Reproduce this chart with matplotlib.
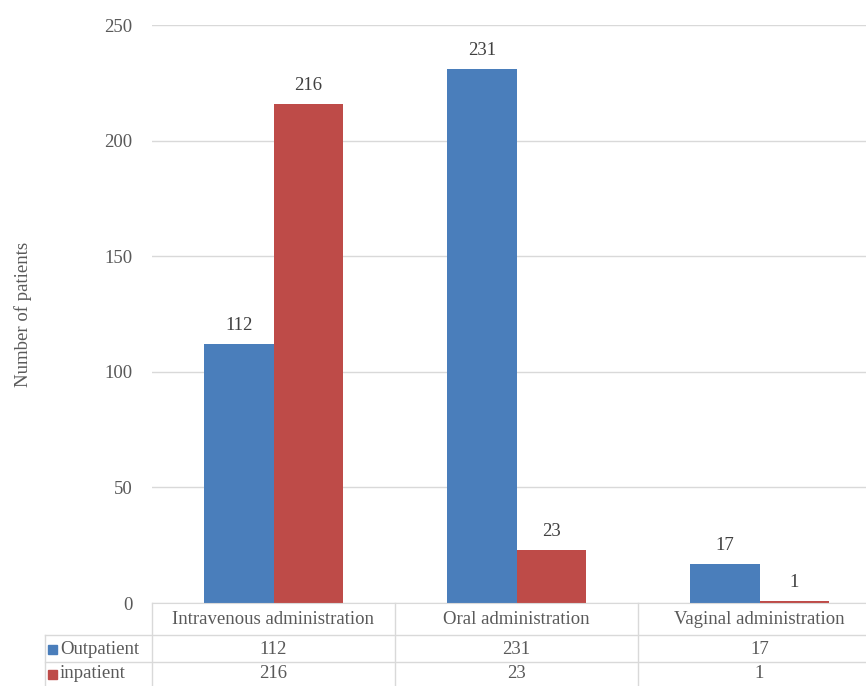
import numpy as np
import matplotlib
matplotlib.use("Agg")
import matplotlib.pyplot as plt
from matplotlib.patches import Rectangle

# 数据
categories = ["Intravenous administration", "Oral administration", "Vaginal administration"]
series_names = ["Outpatient", "inpatient"]
outpatient = [112, 231, 17]
inpatient = [216, 23, 1]
yticks = [0, 50, 100, 150, 200, 250]

colors = ["#4A7EBB", "#BE4B48"]
txt_color = "#595959"
line_color = "#D9D9D9"

plt.rcParams["font.family"] = ["Liberation Serif", "DejaVu Serif"]
plt.rcParams["font.size"] = 13.5

W, H = 866, 686
fig = plt.figure(figsize=(W / 100, H / 100), dpi=100)
# 坐标区: 左152px, 右边超出画布(881px), 上25px, 下603px
ax = fig.add_axes([152 / W, (H - 603) / H, 729 / W, 578 / H])

x = np.arange(len(categories))
bw = 0.284
data = [outpatient, inpatient]
for k, vals in enumerate(data):
    pos = x + (k - 0.5) * bw
    ax.bar(pos, vals, width=bw, color=colors[k], zorder=2)
    for p, v in zip(pos, vals):
        ax.annotate(str(v), (p, v), xytext=(0, 7), textcoords="offset points",
                    ha="center", va="bottom", color="#404040")

ax.set_xlim(-0.5, len(categories) - 0.5)
ax.set_ylim(0, 250)
ax.set_yticks(yticks)
ax.tick_params(axis="y", length=0, pad=14, colors=txt_color)
ax.set_xticks([])
ax.grid(axis="y", color=line_color, linewidth=1, zorder=0)
for s in ["top", "right", "left"]:
    ax.spines[s].set_visible(False)
ax.spines["bottom"].set_color(line_color)
ax.set_ylabel("Number of patients", color=txt_color, labelpad=52)

# 数据表 (y用坐标区比例)
trans = ax.get_xaxis_transform()
px = 1 / 578  # 每像素对应的坐标区高度
row_y = [-17 * px, -46 * px, -71 * px]
line_y = [-32 * px, -59 * px]
bottom_y = -83 * px
left_x = -107 / 729

for i, c in enumerate(categories):
    ax.text(i, row_y[0], c, transform=trans, ha="center", va="center",
            color=txt_color, clip_on=False)
    for k, vals in enumerate(data):
        ax.text(i, row_y[k + 1], str(vals[i]), transform=trans, ha="center",
                va="center", color=txt_color, clip_on=False)

# 竖线
for b in np.arange(len(categories)) - 0.5:
    ax.plot([b, b], [0, bottom_y], transform=trans, color=line_color,
            linewidth=1, clip_on=False)
# 横线
for ly in line_y:
    ax.plot([left_x, 1], [ly, ly], transform=ax.transAxes, color=line_color,
            linewidth=1, clip_on=False)
ax.plot([left_x, left_x], [line_y[0], bottom_y], transform=ax.transAxes,
        color=line_color, linewidth=1, clip_on=False)

# 图例方块 + 系列名称
sq_w, sq_h = 9 / 729, 9 / 578
for k, name in enumerate(series_names):
    ax.add_patch(Rectangle((left_x + 3 / 729, row_y[k + 1] - sq_h / 2), sq_w, sq_h,
                           transform=ax.transAxes, color=colors[k], clip_on=False))
    ax.text(left_x + 15 / 729, row_y[k + 1], name, transform=ax.transAxes,
            ha="left", va="center", color=txt_color, clip_on=False)

fig.savefig("out.png", dpi=100)
